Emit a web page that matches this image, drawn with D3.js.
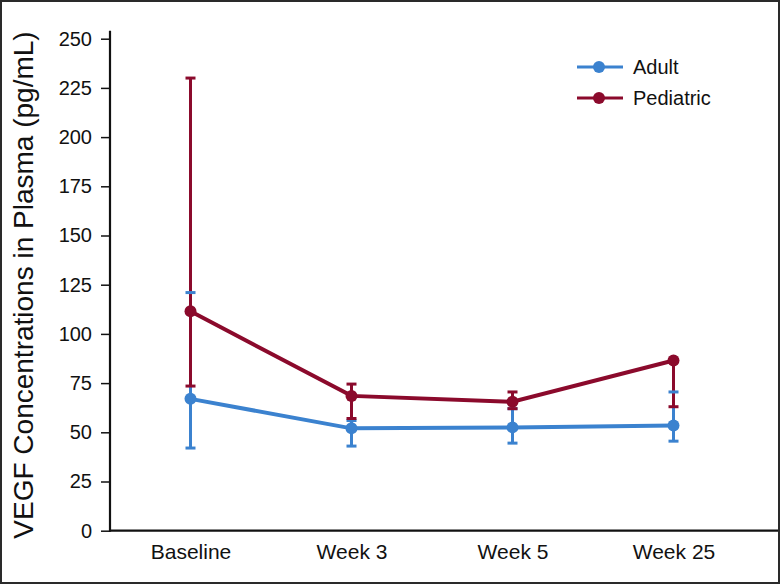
<!DOCTYPE html>
<html>
<head>
    <meta charset="utf-8">
    <title>VEGF concentrations in plasma</title>
    <script src="https://d3js.org/d3.v7.min.js"></script>
    <style>
        body { margin: 0; background: #fff; }
        svg text { font-family: "Liberation Sans", Arial, sans-serif; fill: #111; }
    </style>
</head>
<body>
    <div id="chart"></div>
    <script>
        // values
        var categories = ['Baseline', 'Week 3', 'Week 5', 'Week 25'];
        var adultMean = [67, 52, 52.5, 53.5];
        var adultLow = [42, 43, 44.5, 45.5];
        var adultHigh = [121, 56, 62, 70.5];
        var pedMean = [111.5, 68.5, 65.5, 86.5];
        var pedLow = [73.5, 57, 62, 63];
        var pedHigh = [230, 74.5, 70.5, 86.5];
        var yTicks = [0, 25, 50, 75, 100, 125, 150, 175, 200, 225, 250];

        var width = 780, height = 585;
        var blue = '#3b82cf', red = '#8b0a2c';

        var svg = d3.select('#chart').append('svg')
            .attr('width', width)
            .attr('height', height);

        // frame round the picture
        svg.append('rect')
            .attr('x', 1).attr('y', 1)
            .attr('width', width - 2).attr('height', height - 3)
            .style('fill', 'none')
            .style('stroke', '#2a2a2a')
            .style('stroke-width', 2);

        var x = d3.scalePoint().domain(categories).range([110, 754]).padding(0.5);
        var y = d3.scaleLinear().domain([0, 250]).range([530.7, 38.7]);

        // y axis
        var yAxis = svg.append('g')
            .attr('transform', 'translate(110,0)')
            .call(d3.axisLeft(y).tickValues(yTicks).tickSize(9).tickPadding(9));
        yAxis.select('.domain').remove();
        yAxis.selectAll('.tick line').style('stroke', '#111').style('stroke-width', 1.5);
        yAxis.selectAll('.tick text').style('font-size', '20px');
        svg.append('line')
            .attr('x1', 110).attr('x2', 110)
            .attr('y1', y(250) - 8).attr('y2', y(0) + 1)
            .style('stroke', '#111').style('stroke-width', 2.2);

        // x axis
        var xAxis = svg.append('g')
            .attr('transform', 'translate(0,' + y(0) + ')')
            .call(d3.axisBottom(x).tickSize(0).tickPadding(13));
        xAxis.select('.domain').remove();
        xAxis.selectAll('.tick text').style('font-size', '21px');
        svg.append('line')
            .attr('x1', 109).attr('x2', width - 2)
            .attr('y1', y(0)).attr('y2', y(0))
            .style('stroke', '#111').style('stroke-width', 2.2);

        // y axis title
        svg.append('text')
            .attr('transform', 'translate(33,' + 285 + ') rotate(-90)')
            .attr('text-anchor', 'middle')
            .style('font-size', '28px')
            .text('VEGF Concentrations in Plasma (pg/mL)');

        function rows(mean, low, high) {
            return categories.map(function (c, i) {
                return { cat: c, mean: mean[i], low: low[i], high: high[i] };
            });
        }

        function drawBars(data, color) {
            svg.append('g').selectAll('line').data(data).enter().append('line')
                .attr('x1', function (d) { return x(d.cat); })
                .attr('x2', function (d) { return x(d.cat); })
                .attr('y1', function (d) { return y(d.low); })
                .attr('y2', function (d) { return y(d.high); })
                .style('stroke', color).style('stroke-width', 3);
        }

        function drawCaps(data, color) {
            var g = svg.append('g');
            ['low', 'high'].forEach(function (k) {
                g.selectAll('.cap-' + k).data(data).enter().append('line')
                    .attr('class', 'cap-' + k)
                    .attr('x1', function (d) { return x(d.cat) - 5; })
                    .attr('x2', function (d) { return x(d.cat) + 5; })
                    .attr('y1', function (d) { return y(d[k]); })
                    .attr('y2', function (d) { return y(d[k]); })
                    .style('stroke', color).style('stroke-width', 3);
            });
        }

        function drawSeries(data, color) {
            var line = d3.line()
                .x(function (d) { return x(d.cat); })
                .y(function (d) { return y(d.mean); });
            svg.append('path')
                .datum(data)
                .attr('d', line)
                .style('fill', 'none')
                .style('stroke', color)
                .style('stroke-width', 4);
            svg.append('g').selectAll('circle').data(data).enter().append('circle')
                .attr('cx', function (d) { return x(d.cat); })
                .attr('cy', function (d) { return y(d.mean); })
                .attr('r', 6)
                .style('fill', color);
        }

        var adult = rows(adultMean, adultLow, adultHigh);
        var ped = rows(pedMean, pedLow, pedHigh);

        drawBars(adult, blue);
        drawBars(ped, red);
        drawCaps(adult, blue);
        drawCaps(ped, red);
        drawSeries(adult, blue);
        drawSeries(ped, red);

        // legend
        var legend = svg.append('g').attr('transform', 'translate(577,67)');
        [['Adult', blue], ['Pediatric', red]].forEach(function (item, i) {
            var row = legend.append('g').attr('transform', 'translate(0,' + (i * 31) + ')');
            row.append('line')
                .attr('x1', 0).attr('x2', 46)
                .style('stroke', item[1]).style('stroke-width', 3);
            row.append('circle')
                .attr('cx', 22).attr('r', 6)
                .style('fill', item[1]);
            row.append('text')
                .attr('x', 56).attr('y', 7)
                .style('font-size', '20px')
                .text(item[0]);
        });
    </script>
</body>
</html>
